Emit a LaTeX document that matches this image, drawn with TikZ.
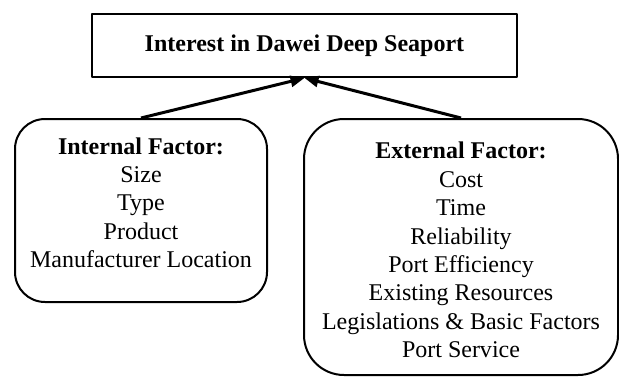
\documentclass[tikz,border=0pt]{standalone}
\usepackage{fontspec}
\setmainfont{Liberation Serif}
\usetikzlibrary{arrows.meta}
\begin{document}
\begin{tikzpicture}[x=0.5pt, y=0.5pt, line join=round, >={Triangle[length=7pt,width=5.5pt]},
	font=\fontsize{12pt}{14.2pt}\selectfont,
	goal/.style={draw, line width=1pt, minimum width=212.5pt, minimum height=31.5pt, inner sep=0pt},
	factor/.style={draw, line width=1pt, rounded corners=#1, align=center, inner sep=0pt}]
	% Khung hinh
	\useasboundingbox (0,0) rectangle (619,376);
	% Cac khoi
	\node[goal] (interest) at (304.5,330.5) {\textbf{Interest in Dawei Deep Seaport}};
	\node[factor=15pt, minimum width=126pt, minimum height=91.5pt] (internal) at (141,165.5)
		{\textbf{Internal Factor:}\\Size\\Type\\Product\\Manufacturer Location\\[-6.2pt]};
	\node[factor=20pt, minimum width=157pt, minimum height=128pt] (external) at (461,129)
		{\textbf{External Factor:}\\Cost\\Time\\Reliability\\Port Efficiency\\Existing Resources\\Legislations \& Basic Factors\\Port Service\\[-17.2pt]};
	% Mui ten
	\draw[->, line width=1.5pt] (internal.north) -- (interest.south);
	\draw[->, line width=1.5pt] (external.north) -- (interest.south);
\end{tikzpicture}
\end{document}
